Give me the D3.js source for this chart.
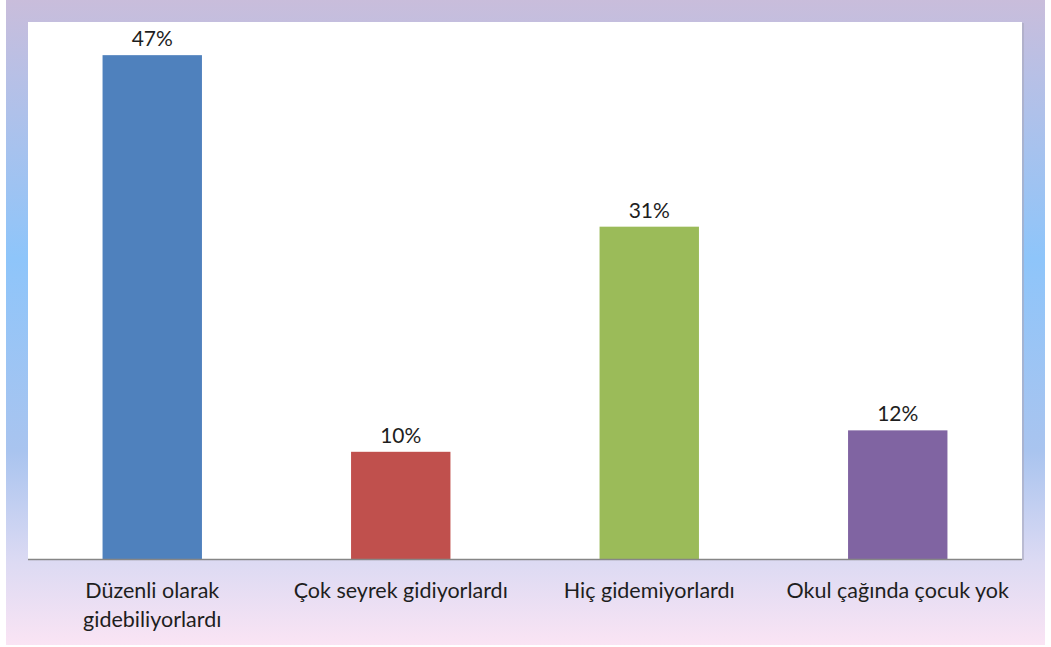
<!DOCTYPE html>
<meta charset="utf-8">
<style>
body{ margin:0; background:#fff; }
text{ font-family: Lato, "Open Sans", sans-serif; fill:#1e1e1e; }
</style>
<body>
<script src="https://d3js.org/d3.v7.min.js"></script>
<script>

var categories = [['Düzenli olarak', 'gidebiliyorlardı'], ['Çok seyrek gidiyorlardı'], ['Hiç gidemiyorlardı'], ['Okul çağında çocuk yok']];
var values = [47, 10, 31, 12];
var colors = ['#4f81bd', '#c0504d', '#9bbb59', '#8064a2'];

var W = 1051, H = 647;
var svg = d3.select("body").append("svg").attr("width", W).attr("height", H);

// panel background gradient
var grad = svg.append("defs").append("linearGradient")
    .attr("id","bg").attr("x1",0).attr("y1",0).attr("x2",0).attr("y2",1);
[[0,'#c9bddb'],[0.12,'#b7c0e6'],[0.4,'#8ec5fa'],[0.7,'#a9c4ef'],[0.87,'#dcdaf3'],[1,'#fae4f4']]
  .forEach(s => grad.append("stop").attr("offset", s[0]).attr("stop-color", s[1]));

svg.append("rect").attr("x",6).attr("y",0).attr("width",1039).attr("height",645).attr("fill","url(#bg)");

var pLeft = 28, pRight = 1022, pTop = 22, base = 559;
svg.append("rect").attr("x",pLeft+2).attr("y",pTop+1).attr("width",pRight-pLeft).attr("height",base-pTop)
    .attr("fill","#a8a8bc").attr("opacity",0.6);
svg.append("rect").attr("x",pLeft).attr("y",pTop).attr("width",pRight-pLeft).attr("height",base-pTop).attr("fill","#fff");

var x = d3.scaleBand().domain(d3.range(values.length)).range([pLeft, pRight]).paddingInner(0.6).paddingOuter(0.3);
var y = d3.scaleLinear().domain([0, 50]).range([base, 23]);

svg.selectAll("rect.bar").data(values).join("rect").attr("class","bar")
    .attr("x",(d,i)=>x(i)).attr("width",x.bandwidth())
    .attr("y",d=>y(d)).attr("height",d=>base-y(d))
    .attr("fill",(d,i)=>colors[i]);

svg.selectAll("text.val").data(values).join("text").attr("class","val")
    .attr("x",(d,i)=>x(i)+x.bandwidth()/2).attr("y",d=>y(d)-9)
    .attr("text-anchor","middle").style("font-size","21px")
    .text(d=>d+"%");

svg.append("line").attr("x1",pLeft).attr("x2",pRight).attr("y1",base+0.5).attr("y2",base+0.5)
    .attr("stroke","#868686").attr("stroke-width",1.5);

svg.selectAll("text.cat").data(categories).join("text").attr("class","cat")
    .attr("text-anchor","middle").style("font-size","21.5px")
    .attr("transform",(d,i)=>"translate("+(x(i)+x.bandwidth()/2)+",598)")
    .selectAll("tspan").data(d=>d).join("tspan")
    .attr("x",0).attr("dy",(d,j)=>j?"29":"0").text(d=>d);

</script>
</body>
